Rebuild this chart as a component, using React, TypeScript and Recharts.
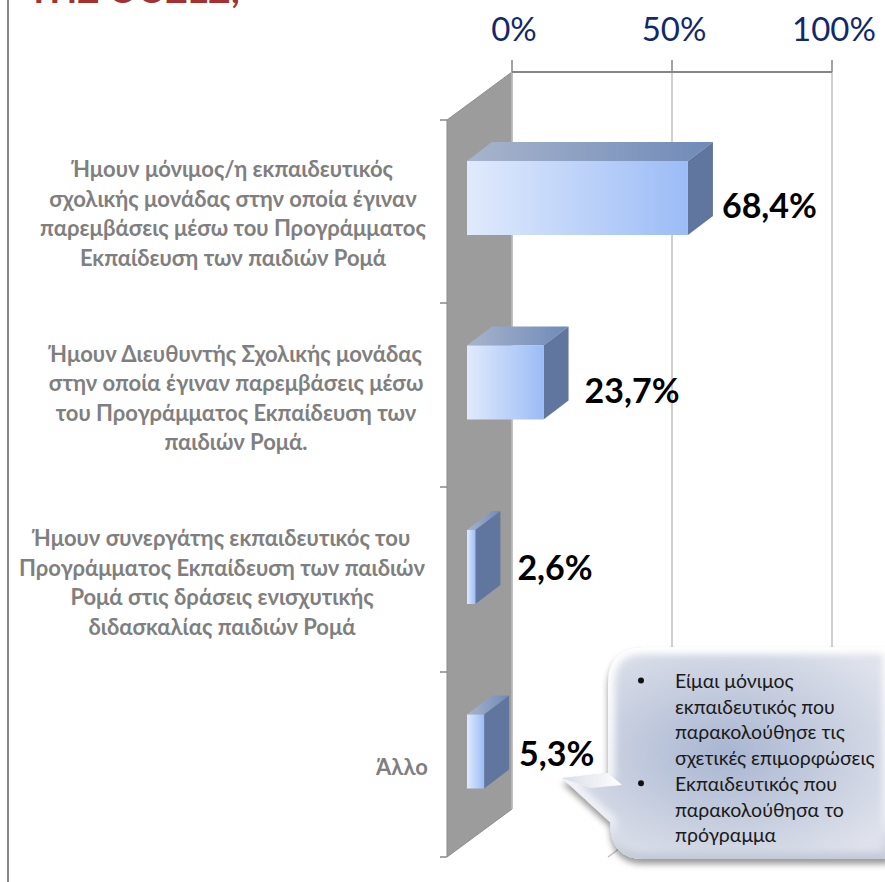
import React from 'react';
import { BarChart, Bar, XAxis, YAxis, CartesianGrid, LabelList } from 'recharts';

const categories = [
  ['Ήμουν μόνιμος/η εκπαιδευτικός', 'σχολικής μονάδας στην οποία έγιναν', 'παρεμβάσεις μέσω του Προγράμματος', 'Εκπαίδευση των παιδιών Ρομά'],
  ['Ήμουν Διευθυντής Σχολικής μονάδας', 'στην οποία έγιναν παρεμβάσεις μέσω', 'του Προγράμματος Εκπαίδευση των', 'παιδιών Ρομά.'],
  ['Ήμουν συνεργάτης εκπαιδευτικός του', 'Προγράμματος Εκπαίδευση των παιδιών', 'Ρομά στις δράσεις ενισχυτικής', 'διδασκαλίας παιδιών Ρομά'],
  ['Άλλο'],
];
const values = [68.4, 23.7, 2.6, 5.3];
const xTicks = [0, 50, 100];
const calloutLines = [
  { text: 'Είμαι μόνιμος', bullet: true },
  { text: 'εκπαιδευτικός που', bullet: false },
  { text: 'παρακολούθησε τις', bullet: false },
  { text: 'σχετικές επιμορφώσεις', bullet: false },
  { text: 'Εκπαιδευτικός που', bullet: true },
  { text: 'παρακολούθησα το', bullet: false },
  { text: 'πρόγραμμα', bullet: false },
];

const tableData = values.map((value, i) => ({ id: i, value }));

const FONT = 'Lato, Carlito, "Open Sans", sans-serif';
const DEPTH_X = 25;
const DEPTH_Y = 19;
// label placement tweaks, per bar
const labelCenterX = [233, 236, 222, 402];
const valueLabelGap = [34, 41, 42, 35];
const valueLabelLift = [7, 7, 0, 1];
const CALLOUT_PATH = 'M644,647 H890 V859 H644 Q610,859 610,822 L562,778 L608,773 V683 Q608,647 644,647 Z';

const Bar3D = (props: any) => {
  const { x, y, width, height } = props;
  const dx = DEPTH_X;
  const dy = DEPTH_Y;
  return (
    <g>
      <polygon points={`${x},${y} ${x + dx},${y - dy} ${x + width + dx},${y - dy} ${x + width},${y}`} fill="url(#barTop)" />
      <polygon points={`${x + width},${y} ${x + width + dx},${y - dy} ${x + width + dx},${y + height - dy} ${x + width},${y + height}`} fill="#61769f" />
      <rect x={x} y={y} width={width} height={height} fill="url(#barFront)" />
    </g>
  );
};

const CategoryTick = (props: any) => {
  const { y, index } = props;
  const lines = categories[index] || [];
  const cx = labelCenterX[index];
  const lineH = 29.5;
  const cy = y + 16;
  const top = cy - ((lines.length - 1) * lineH) / 2;
  return (
    <text textAnchor="middle" fontFamily={FONT} fontSize={22} fontWeight={700} fill="#7f7f7f">
      {lines.map((l, i) => (
        <tspan key={i} x={cx} y={top + i * lineH + 7}>{l}</tspan>
      ))}
    </text>
  );
};

const ValueLabel = (props: any) => {
  const { x, y, width, height, index, value } = props;
  return (
    <text
      x={x + width + valueLabelGap[index]}
      y={y + height / 2 + valueLabelLift[index] + 13}
      fontFamily={FONT}
      fontSize={34}
      fontWeight={700}
      fill="#000"
    >
      {String(value).replace('.', ',')}%
    </text>
  );
};

const PercentTick = (props: any) => {
  const { x, y, payload } = props;
  return (
    <text x={x + 2} y={y - 17} textAnchor="middle" fontFamily={FONT} fontSize={33} fill="#10296b">
      {payload.value}%
    </text>
  );
};

const BackWall = () => (
  <svg width={885} height={882} style={{ position: 'absolute', left: 0, top: 0 }}>
    <line x1={8} y1={0} x2={8} y2={882} stroke="#868686" strokeWidth={2} />
    <text x={28} y={3} fontFamily={FONT} fontSize={36} fontWeight={700} fill="#a5302f">ΤΗΣ ΟΟΣΕΣ;</text>
    <polygon points="447,120 512,72 512,809 447,857" fill="#9c9c9c" stroke="#8c8c8c" />
    {[120, 303, 487, 672, 857].map((t) => (
      <line key={t} x1={440} y1={t} x2={447} y2={t} stroke="#888" strokeWidth={1.5} />
    ))}
    <line x1={673} y1={809} x2={608} y2={857} stroke="#bfbfbf" strokeWidth={1.5} />
  </svg>
);

const Callout = () => (
  <svg width={885} height={882} style={{ position: 'absolute', left: 0, top: 0 }}>
    <defs>
      <radialGradient id="calloutFill" cx="0.5" cy="0.5" r="0.6">
        <stop offset="0" stopColor="#a9b6d2" />
        <stop offset="0.6" stopColor="#c9d0e0" />
        <stop offset="1" stopColor="#dfe2ec" />
      </radialGradient>
      <linearGradient id="bevelEdge" x1="0" y1="0" x2="0" y2="1">
        <stop offset="0" stopColor="#ffffff" />
        <stop offset="0.8" stopColor="#eef0f6" />
        <stop offset="1" stopColor="#c2c8d6" />
      </linearGradient>
      <linearGradient id="tailGlow" x1="0" y1="0" x2="1" y2="0">
        <stop offset="0" stopColor="#d8dce6" />
        <stop offset="1" stopColor="#ffffff" />
      </linearGradient>
      <filter id="calloutShadow" x="-15%" y="-10%" width="130%" height="125%">
        <feDropShadow dx={0} dy={5} stdDeviation={3} floodColor="#000" floodOpacity={0.4} />
      </filter>
      <filter id="bevelBlur" x="-10%" y="-10%" width="120%" height="120%">
        <feGaussianBlur stdDeviation={3.5} />
      </filter>
      <clipPath id="calloutClip">
        <path d={CALLOUT_PATH} />
      </clipPath>
    </defs>
    <path d={CALLOUT_PATH} fill="url(#calloutFill)" filter="url(#calloutShadow)" />
    <g clipPath="url(#calloutClip)">
      <path d={CALLOUT_PATH} fill="none" stroke="url(#bevelEdge)" strokeWidth={14} filter="url(#bevelBlur)" />
      <polygon points="562,778 608,773 622,785 590,788" fill="url(#tailGlow)" />
    </g>
    <text fontFamily={FONT} fontSize={19.5} fill="#1a1a1a">
      {calloutLines.map((l, i) => (
        <tspan key={i} x={675} y={688 + i * 25.7}>{l.text}</tspan>
      ))}
    </text>
    {calloutLines.map((l, i) =>
      l.bullet ? <circle key={i} cx={641} cy={680.5 + i * 25.7} r={3} fill="#111" /> : null
    )}
  </svg>
);

export default function App() {
  return (
    <div style={{ position: 'absolute', left: 0, top: 0, width: 885, height: 882, overflow: 'hidden', background: '#fff' }}>
      <BackWall />
      {/* back plane: axis and gridlines */}
      <div style={{ position: 'absolute', left: 0, top: 0 }}>
        <BarChart width={885} height={882} data={tableData} layout="vertical" margin={{ top: 12, right: 53, bottom: 73, left: 512 }}>
          <CartesianGrid horizontal={false} stroke="#bfbfbf" strokeWidth={1.5} />
          <XAxis
            type="number"
            orientation="top"
            domain={[0, 100]}
            ticks={xTicks}
            tick={<PercentTick />}
            tickSize={12}
            height={60}
            axisLine={{ stroke: '#868686', strokeWidth: 2 }}
            tickLine={{ stroke: '#868686', strokeWidth: 1.5 }}
          />
          <YAxis type="category" dataKey="id" hide />
          <Bar dataKey="value" fill="none" isAnimationActive={false} />
        </BarChart>
      </div>
      {/* front plane: 3D bars */}
      <div style={{ position: 'absolute', left: 0, top: 0 }}>
        <BarChart width={885} height={882} data={tableData} layout="vertical" barSize={74} margin={{ top: 106, right: 95, bottom: 38, left: 7 }}>
          <defs>
            <linearGradient id="barFront" x1="0" y1="0" x2="1" y2="0">
              <stop offset="0" stopColor="#e0eafc" />
              <stop offset="1" stopColor="#9cbcf6" />
            </linearGradient>
            <linearGradient id="barTop" x1="0" y1="0" x2="1" y2="0">
              <stop offset="0" stopColor="#a8b4cc" />
              <stop offset="1" stopColor="#6f8ab8" />
            </linearGradient>
          </defs>
          <XAxis type="number" domain={[0, 100]} hide />
          <YAxis type="category" dataKey="id" width={460} tick={<CategoryTick />} axisLine={false} tickLine={false} interval={0} />
          <Bar dataKey="value" shape={<Bar3D />} isAnimationActive={false}>
            <LabelList dataKey="value" content={<ValueLabel />} />
          </Bar>
        </BarChart>
      </div>
      <Callout />
    </div>
  );
}
